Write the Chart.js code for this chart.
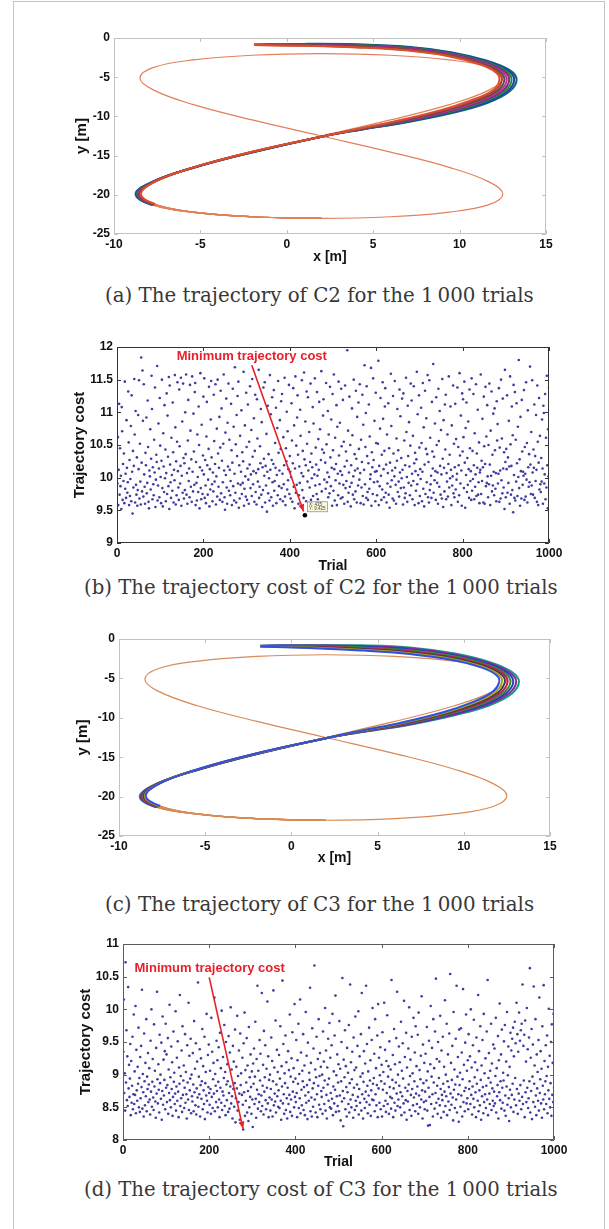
<!DOCTYPE html>
<html>
<head>
<meta charset="utf-8">
<title>Trajectories and trajectory cost for 1 000 trials</title>
<script src="https://cdn.jsdelivr.net/npm/chart.js@4.4.1/dist/chart.umd.min.js"></script>
<style>
  html, body { margin: 0; padding: 0; background: #fff; }
  #page { position: relative; width: 609px; height: 1229px; overflow: hidden; }
  #frame { position: absolute; left: 13px; top: 1px; width: 590px; height: 1300px; border: 1px solid #c4c4c4; }
  #page canvas { position: absolute; left: 0; }
  .cap { position: absolute; white-space: nowrap; line-height: 1; font-family: "DejaVu Serif", serif; color: #383838; }
</style>
</head>
<body>
<div id="page">
  <div id="frame"></div>
  <canvas id="chartA"></canvas>
  <div class="cap" id="capA">(a) The trajectory of C2 for the 1&#8201;000 trials</div>
  <canvas id="chartB"></canvas>
  <div class="cap" id="capB">(b) The trajectory cost of C2 for the 1&#8201;000 trials</div>
  <canvas id="chartC"></canvas>
  <div class="cap" id="capC">(c) The trajectory of C3 for the 1&#8201;000 trials</div>
  <canvas id="chartD"></canvas>
  <div class="cap" id="capD">(d) The trajectory cost of C3 for the 1&#8201;000 trials</div>
</div>
<script>
// ─────────────────────────────────────────────
//  Tick labels
// ─────────────────────────────────────────────
const trajXTicks  = [-10, -5, 0, 5, 10, 15];
const trajYTicks  = [-25, -20, -15, -10, -5, 0];
const trialTicks  = [0, 200, 400, 600, 800, 1000];
const costTicksB  = [9, 9.5, 10, 10.5, 11, 11.5, 12];
const costTicksD  = [8, 8.5, 9, 9.5, 10, 10.5, 11];

// ─────────────────────────────────────────────
//  Reference figure-eight path [x, y] in metres
// ─────────────────────────────────────────────
const refPath = [
  [-2.0,-14.55],[2.0,-12.5],[6.0,-10.45],[9.4,-8.5],[11.7,-6.65],[12.5,-5.1],[11.7,-3.75],
  [9.4,-2.8],[6.0,-2.2],[2.0,-2.0],[-2.0,-2.2],[-5.4,-2.8],[-7.7,-3.75],[-8.5,-5.1],
  [-7.7,-6.65],[-5.4,-8.5],[-2.0,-10.45],[2.0,-12.5],[6.0,-14.55],[9.4,-16.5],[11.7,-18.35],
  [12.5,-19.9],[11.7,-21.25],[9.4,-22.2],[6.0,-22.8],[2.0,-23.0],[-2.0,-22.8],[-5.4,-22.2],
  [-7.7,-21.25],[-8.5,-19.9],[-7.7,-18.35],[-5.4,-16.5],[-2.0,-14.55],[2.0,-12.5],[6.0,-10.45]
];

// ─────────────────────────────────────────────
//  C2 trials (outer edge of the bundle → inner edge)
// ─────────────────────────────────────────────
const trialC2_1 = [[-1.9,-0.85],[1.0,-0.75],[4.0,-0.8],[7.0,-1.1],[9.5,-1.8],[11.6,-2.9],[12.9,-4.1],[13.3,-5.3],[12.9,-6.8],[11.6,-8.3],[9.5,-9.6],[6.8,-10.8],[4.3,-11.7],[2.2,-12.5],[-2.0,-14.6],[-5.4,-16.55],[-7.8,-18.35],[-8.75,-19.9],[-7.8,-21.3],[-5.4,-22.25],[-2.0,-22.8],[2.0,-23.0]];
const trialC2_2 = [[-1.9,-0.86],[1.0,-0.79],[4.0,-0.86],[7.0,-1.17],[9.47,-1.87],[11.54,-2.97],[12.79,-4.14],[13.16,-5.31],[12.76,-6.79],[11.46,-8.26],[9.41,-9.54],[6.73,-10.77],[4.27,-11.69],[2.2,-12.5],[-2.0,-14.59],[-5.4,-16.54],[-7.77,-18.34],[-8.71,-19.9],[-7.77,-21.29],[-5.4,-22.24],[-2.0,-22.8],[2.0,-23.0]];
const trialC2_3 = [[-1.9,-0.86],[1.0,-0.82],[4.0,-0.91],[7.0,-1.24],[9.44,-1.94],[11.49,-3.04],[12.67,-4.19],[13.01,-5.33],[12.61,-6.77],[11.31,-8.21],[9.33,-9.49],[6.66,-10.74],[4.24,-11.67],[2.2,-12.5],[-2.0,-14.57],[-5.4,-16.54],[-7.74,-18.34],[-8.66,-19.9],[-7.74,-21.27],[-5.4,-22.24],[-2.0,-22.8],[2.0,-23.0]];
const trialC2_4 = [[-1.9,-0.87],[1.0,-0.86],[4.0,-0.97],[7.0,-1.31],[9.41,-2.01],[11.43,-3.11],[12.56,-4.23],[12.87,-5.34],[12.47,-6.76],[11.17,-8.17],[9.24,-9.43],[6.59,-10.71],[4.21,-11.66],[2.2,-12.5],[-2.0,-14.56],[-5.4,-16.53],[-7.71,-18.33],[-8.62,-19.9],[-7.71,-21.26],[-5.4,-22.23],[-2.0,-22.8],[2.0,-23.0]];
const trialC2_5 = [[-1.9,-0.88],[1.0,-0.89],[4.0,-1.03],[7.0,-1.39],[9.39,-2.09],[11.37,-3.19],[12.44,-4.27],[12.73,-5.36],[12.33,-6.74],[11.03,-8.13],[9.16,-9.37],[6.51,-10.69],[4.19,-11.64],[2.2,-12.5],[-2.0,-14.54],[-5.4,-16.52],[-7.69,-18.32],[-8.58,-19.9],[-7.69,-21.24],[-5.4,-22.22],[-2.0,-22.8],[2.0,-23.0]];
const trialC2_6 = [[-1.9,-0.89],[1.0,-0.93],[4.0,-1.09],[7.0,-1.46],[9.36,-2.16],[11.31,-3.26],[12.33,-4.31],[12.59,-5.37],[12.19,-6.73],[10.89,-8.09],[9.07,-9.31],[6.44,-10.66],[4.16,-11.63],[2.2,-12.5],[-2.0,-14.53],[-5.4,-16.51],[-7.66,-18.31],[-8.54,-19.9],[-7.66,-21.23],[-5.4,-22.21],[-2.0,-22.8],[2.0,-23.0]];
const trialC2_7 = [[-1.9,-0.89],[1.0,-0.96],[4.0,-1.14],[7.0,-1.53],[9.33,-2.23],[11.26,-3.33],[12.21,-4.36],[12.44,-5.39],[12.04,-6.71],[10.74,-8.04],[8.99,-9.26],[6.37,-10.63],[4.13,-11.61],[2.2,-12.5],[-2.0,-14.51],[-5.4,-16.51],[-7.63,-18.31],[-8.49,-19.9],[-7.63,-21.21],[-5.4,-22.21],[-2.0,-22.8],[2.0,-23.0]];
const trialC2_8 = [[-1.9,-0.9],[1.0,-1.0],[4.0,-1.2],[7.0,-1.6],[9.3,-2.3],[11.2,-3.4],[12.1,-4.4],[12.3,-5.4],[11.9,-6.7],[10.6,-8.0],[8.9,-9.2],[6.3,-10.6],[4.1,-11.6],[2.2,-12.5],[-2.0,-14.5],[-5.4,-16.5],[-7.6,-18.3],[-8.45,-19.9],[-7.6,-21.2],[-5.4,-22.2],[-2.0,-22.8],[2.0,-23.0]];

// ─────────────────────────────────────────────
//  C3 trials (outer edge of the bundle → inner edge)
// ─────────────────────────────────────────────
const trialC3_1 = [[-1.8,-0.85],[1.0,-0.75],[4.0,-0.8],[7.0,-1.1],[9.5,-1.85],[11.6,-3.0],[12.8,-4.2],[13.2,-5.4],[12.8,-6.9],[11.5,-8.4],[9.4,-9.7],[6.8,-10.9],[4.3,-11.75],[2.2,-12.5],[-2.0,-14.6],[-5.4,-16.6],[-7.85,-18.4],[-8.8,-20.0],[-7.85,-21.35],[-5.4,-22.25],[-2.0,-22.8],[2.0,-23.0]];
const trialC3_2 = [[-1.8,-0.86],[1.0,-0.81],[4.0,-0.89],[7.0,-1.22],[9.46,-1.96],[11.52,-3.08],[12.67,-4.26],[13.04,-5.41],[12.63,-6.89],[11.35,-8.36],[9.32,-9.64],[6.73,-10.87],[4.27,-11.73],[2.2,-12.5],[-2.0,-14.59],[-5.4,-16.59],[-7.82,-18.39],[-8.75,-19.99],[-7.82,-21.33],[-5.4,-22.24],[-2.0,-22.8],[2.0,-23.0]];
const trialC3_3 = [[-1.8,-0.88],[1.0,-0.87],[4.0,-0.99],[7.0,-1.35],[9.41,-2.07],[11.43,-3.17],[12.54,-4.32],[12.87,-5.43],[12.45,-6.87],[11.18,-8.31],[9.23,-9.58],[6.66,-10.83],[4.24,-11.71],[2.2,-12.5],[-2.0,-14.57],[-5.4,-16.57],[-7.78,-18.37],[-8.7,-19.97],[-7.78,-21.31],[-5.4,-22.24],[-2.0,-22.8],[2.0,-23.0]];
const trialC3_4 = [[-1.8,-0.89],[1.0,-0.92],[4.0,-1.08],[7.0,-1.47],[9.37,-2.17],[11.34,-3.26],[12.41,-4.37],[12.71,-5.44],[12.28,-6.86],[11.03,-8.27],[9.14,-9.53],[6.59,-10.79],[4.21,-11.69],[2.2,-12.5],[-2.0,-14.56],[-5.4,-16.56],[-7.74,-18.36],[-8.65,-19.96],[-7.74,-21.29],[-5.4,-22.23],[-2.0,-22.8],[2.0,-23.0]];
const trialC3_5 = [[-1.8,-0.91],[1.0,-0.98],[4.0,-1.17],[7.0,-1.58],[9.33,-2.28],[11.26,-3.34],[12.29,-4.43],[12.54,-5.46],[12.12,-6.84],[10.87,-8.23],[9.06,-9.47],[6.52,-10.76],[4.19,-11.66],[2.2,-12.5],[-2.0,-14.54],[-5.4,-16.54],[-7.71,-18.34],[-8.6,-19.94],[-7.71,-21.26],[-5.4,-22.22],[-2.0,-22.8],[2.0,-23.0]];
const trialC3_6 = [[-1.8,-0.92],[1.0,-1.03],[4.0,-1.26],[7.0,-1.7],[9.29,-2.38],[11.17,-3.43],[12.16,-4.48],[12.38,-5.47],[11.95,-6.83],[10.72,-8.19],[8.97,-9.42],[6.45,-10.72],[4.16,-11.64],[2.2,-12.5],[-2.0,-14.53],[-5.4,-16.53],[-7.67,-18.33],[-8.55,-19.93],[-7.67,-21.24],[-5.4,-22.21],[-2.0,-22.8],[2.0,-23.0]];
const trialC3_7 = [[-1.8,-0.94],[1.0,-1.09],[4.0,-1.36],[7.0,-1.83],[9.24,-2.5],[11.08,-3.52],[12.03,-4.54],[12.21,-5.49],[11.77,-6.81],[10.55,-8.14],[8.88,-9.36],[6.37,-10.69],[4.13,-11.62],[2.2,-12.5],[-2.0,-14.51],[-5.4,-16.51],[-7.64,-18.31],[-8.5,-19.91],[-7.64,-21.22],[-5.4,-22.21],[-2.0,-22.8],[2.0,-23.0]];
const trialC3_8 = [[-1.8,-0.95],[1.0,-1.15],[4.0,-1.45],[7.0,-1.95],[9.2,-2.6],[11.0,-3.6],[11.9,-4.6],[12.05,-5.5],[11.6,-6.8],[10.4,-8.1],[8.8,-9.3],[6.3,-10.65],[4.1,-11.6],[2.2,-12.5],[-2.0,-14.5],[-5.4,-16.5],[-7.6,-18.3],[-8.45,-19.9],[-7.6,-21.2],[-5.4,-22.2],[-2.0,-22.8],[2.0,-23.0]];

// ─────────────────────────────────────────────
//  Trajectory cost per trial (trial 1 … 1000)
// ─────────────────────────────────────────────
const costC2 = [
  9.91,10.62,9.58,10.12,11.13,9.74,10.45,9.87,10.03,9.52,11.08,10.71,9.66,10.21,9.95,10.37,9.61,11.47,9.83,10.06,
  9.69,10.88,10.15,9.77,9.93,11.32,10.54,9.58,10.27,9.72,9.98,10.79,9.64,11.26,10.09,9.45,10.41,9.85,10.18,11.51,
  10.66,9.62,11.02,9.89,9.74,10.31,9.57,9.81,10.96,10.13,11.49,9.68,10.52,9.94,9.59,11.84,10.23,9.79,11.64,10.87,
  9.71,11.43,10.05,9.86,9.6,10.38,10.19,10.92,9.76,9.92,11.18,10.47,9.63,9.53,10.11,10.02,10.74,9.82,10.29,11.56,
  11.05,9.67,10.16,9.9,9.73,10.58,10.08,11.38,9.55,9.97,10.35,10.24,11.71,9.65,9.88,10.83,10.14,9.7,11.22,10.49,
  10.01,9.61,10.26,11.5,9.84,9.56,10.68,10.17,9.78,11.11,9.99,10.43,9.64,10.07,11.29,9.75,10.95,10.32,9.87,11.54,
  9.52,11.41,10.2,9.93,9.69,10.61,10.04,9.8,11.15,10.39,9.62,10.12,9.96,11.57,10.77,9.59,10.25,9.73,10.55,11.46,
  10.1,9.85,9.66,11.35,10.48,9.91,10.18,11.53,9.57,10.03,10.86,9.77,11.44,10.3,9.68,10.22,9.81,11.0,10.36,11.58,
  9.74,10.07,9.6,10.57,11.19,9.95,10.14,9.7,11.42,10.72,9.86,10.28,9.63,11.55,10.09,9.79,10.98,10.4,9.89,11.31,
  11.45,9.58,10.24,9.92,9.65,10.66,10.01,9.78,11.09,10.5,9.53,10.16,11.6,9.84,9.67,10.81,10.11,9.75,10.34,11.24,
  10.05,11.52,9.69,10.27,9.88,9.61,10.63,11.16,10.19,9.74,9.97,10.44,11.39,9.56,10.13,9.82,10.89,11.48,10.31,9.9,
  9.64,10.08,9.79,11.27,10.56,9.94,10.21,11.43,9.59,10.02,10.75,9.71,11.5,10.37,9.86,10.15,10.93,9.66,10.46,11.33,
  9.76,11.06,10.26,9.63,9.93,10.52,11.58,10.11,9.7,9.51,10.69,10.04,11.21,9.85,9.6,10.84,10.17,11.44,9.8,10.58,
  10.12,9.73,9.95,11.13,10.42,9.58,10.23,11.36,9.87,10.78,9.65,10.06,11.69,9.77,10.51,9.62,10.96,10.33,11.25,9.91,
  11.47,9.54,10.19,9.68,10.64,9.89,10.09,11.03,9.75,10.39,9.92,10.25,11.62,9.57,9.83,10.8,10.02,9.71,11.3,10.47,
  9.66,10.14,11.12,9.97,9.6,10.55,10.2,11.4,9.84,10.05,10.73,9.72,11.51,10.32,9.9,10.1,10.91,9.63,10.41,11.27,
  9.78,10.07,9.59,11.2,10.6,9.94,10.13,11.65,9.69,9.86,10.48,10.22,11.05,9.74,10.85,9.55,10.16,9.81,11.38,10.29,
  10.03,11.46,9.62,10.18,9.88,10.67,9.48,10.09,11.1,9.76,10.36,9.99,9.65,11.57,10.12,10.97,9.7,10.27,11.23,9.93,
  9.57,10.21,11.34,9.8,9.95,10.53,10.15,11.07,9.61,10.04,10.76,9.73,11.48,10.38,9.87,10.11,10.88,9.67,10.44,11.17,
  9.84,11.28,10.06,9.64,10.62,9.9,10.19,11.53,9.71,9.58,10.45,10.25,11.01,9.82,10.71,9.96,10.13,11.42,9.75,10.33,
  10.09,9.68,10.01,11.14,10.57,9.63,10.22,11.37,9.86,10.8,9.53,10.14,11.55,9.77,10.49,9.89,10.92,11.26,10.35,9.6,
  9.73,10.17,9.92,11.04,10.64,9.56,10.07,11.49,9.81,10.41,10.02,9.69,11.61,10.28,9.425,10.86,10.19,9.64,11.32,10.52,
  9.94,11.23,10.11,9.58,10.7,9.85,10.24,11.44,9.66,10.37,9.99,10.16,11.08,9.72,10.83,9.6,10.05,11.52,9.88,10.46,
  10.2,9.75,11.31,10.03,9.67,10.59,10.12,11.16,9.9,10.74,9.55,10.27,11.63,9.79,10.43,9.62,10.95,11.2,10.38,9.97,
  9.61,10.23,9.83,11.45,10.51,9.93,10.08,11.02,9.7,10.66,10.01,9.76,11.39,10.31,9.87,10.89,10.15,9.57,11.28,10.42,
  9.8,11.58,10.13,9.65,10.61,9.96,10.21,11.11,9.58,10.78,10.06,9.73,11.47,10.34,9.91,10.84,10.1,9.68,11.36,10.48,
  10.04,9.7,11.19,9.89,10.55,9.6,10.17,11.41,9.84,10.4,9.95,10.26,11.95,9.63,10.72,9.77,10.08,11.24,9.86,10.5,
  9.56,10.19,9.92,11.06,10.65,9.74,10.02,11.5,9.67,10.36,10.11,9.79,11.33,10.29,9.62,10.93,10.14,9.88,11.15,10.44,
  9.97,11.43,10.07,9.61,10.58,9.85,10.24,11.27,9.72,10.81,9.59,10.12,11.72,9.9,10.47,10.99,9.69,11.4,10.33,9.78,
  9.66,10.22,11.12,9.83,10.63,9.98,10.05,11.68,9.57,10.39,10.16,9.75,11.52,10.27,9.93,10.87,10.09,9.64,11.3,10.53,
  10.1,9.73,9.94,10.52,11.79,9.58,10.18,9.87,10.75,11.22,10.03,9.66,10.35,9.82,11.46,10.9,10.13,9.7,10.41,11.09,
  11.37,9.77,10.2,9.62,10.66,9.91,10.07,11.14,9.74,10.45,9.54,10.23,9.86,11.59,10.79,9.96,10.11,9.68,11.25,10.37,
  9.65,10.02,11.48,10.15,9.89,9.6,10.6,10.26,11.05,9.78,10.42,9.94,9.71,11.35,10.08,10.94,9.84,10.3,9.99,11.21,
  10.12,9.59,11.29,9.85,10.57,9.69,10.19,9.76,11.53,10.7,10.01,9.63,11.1,10.33,9.92,10.85,10.17,9.73,10.49,11.44,
  9.88,11.18,10.06,9.67,10.64,9.95,11.4,10.22,9.58,10.38,10.1,9.8,10.28,11.62,9.9,10.97,10.04,9.61,11.26,10.46,
  9.72,10.13,9.98,11.07,10.53,9.64,10.09,11.45,9.83,10.77,9.56,10.2,11.33,9.75,10.44,10.91,9.93,10.36,11.57,9.7,
  10.24,9.62,11.49,9.81,10.61,9.9,10.03,9.69,11.16,10.4,10.14,11.74,9.77,10.32,9.96,10.83,10.1,9.66,11.23,10.5,
  9.92,10.08,9.6,11.36,10.56,9.86,11.02,10.18,9.74,10.73,10.05,9.68,11.51,10.29,9.55,10.88,10.15,9.79,11.12,10.43,
  11.27,9.67,10.07,9.94,10.66,9.71,10.21,11.55,9.85,10.35,9.99,11.09,10.12,9.58,10.8,9.88,10.02,11.41,9.76,10.52,
  9.7,10.16,11.13,9.82,10.59,9.97,10.06,11.38,9.63,10.47,10.19,9.73,11.6,10.34,9.91,10.95,10.11,9.57,11.29,10.4,
  11.2,10.62,9.84,11.47,10.23,9.54,10.76,10.04,11.15,9.78,10.3,9.89,10.86,10.13,9.69,11.35,10.45,9.95,10.1,9.66,
  11.52,9.8,10.41,9.98,11.28,10.19,9.67,10.68,9.86,10.05,11.43,9.72,10.37,10.15,11.04,9.74,9.93,10.54,9.61,10.08,
  10.12,11.58,9.75,10.26,9.95,10.9,10.16,9.62,11.24,10.48,9.6,10.21,11.39,9.87,10.63,9.92,11.11,10.02,9.7,10.5,
  9.9,11.44,10.2,9.58,10.72,10.03,11.32,9.79,10.35,9.88,10.98,10.09,9.73,11.06,10.42,9.83,10.07,9.64,11.17,10.57,
  10.82,9.91,10.06,11.37,9.63,10.46,10.11,9.68,11.5,9.96,10.6,9.76,11.21,10.14,9.85,10.39,9.52,11.65,10.24,9.7,
  10.44,10.13,11.26,9.77,10.31,9.92,10.87,10.17,9.6,11.55,10.51,9.74,10.18,11.09,9.81,10.65,9.47,11.42,10.04,9.69,
  11.31,9.65,10.58,9.94,11.14,10.22,9.72,10.78,10.01,11.8,9.84,10.28,9.57,10.93,10.1,9.68,11.19,10.4,9.89,10.09,
  10.03,11.34,9.66,10.47,10.06,9.71,11.46,9.97,10.53,9.62,11.03,10.16,9.86,10.36,9.93,11.7,10.2,9.75,10.7,9.88,
  11.49,10.08,9.74,10.43,10.15,11.12,9.69,10.33,9.95,10.96,10.12,9.63,11.41,10.55,9.58,10.23,11.22,9.82,10.64,9.9,
  9.78,10.3,9.94,10.89,10.14,9.6,11.1,10.99,9.91,10.05,11.28,9.67,10.61,9.85,11.56,10.19,9.53,10.74,10.02,11.38
];

const costC3 = [
  9.35,10.15,8.72,9.02,8.45,10.72,8.88,9.68,8.61,9.28,8.52,10.34,8.79,9.15,8.66,8.94,9.47,8.38,9.21,8.57,
  8.83,9.58,8.47,8.7,9.92,8.55,9.05,8.69,10.05,8.41,9.38,8.76,8.6,9.12,8.86,9.72,8.5,8.95,8.43,9.27,
  8.64,9.44,8.81,10.3,8.48,9.01,8.73,8.36,9.63,8.9,8.53,9.18,8.67,9.85,8.44,8.97,8.78,9.33,8.58,8.85,
  9.1,8.62,8.39,9.52,8.74,10.0,8.51,8.89,9.24,8.65,8.46,9.77,8.82,9.06,8.59,8.34,9.41,8.71,10.27,8.93,
  8.56,9.16,8.77,8.42,9.61,8.87,9.0,8.63,9.49,8.31,8.75,9.89,8.54,9.23,8.68,8.92,9.36,8.47,9.78,8.8,
  9.31,8.58,8.84,9.56,8.4,9.08,8.72,10.07,8.61,8.96,8.5,9.43,8.78,9.19,8.37,8.66,9.66,8.89,9.03,8.55,
  8.71,9.97,8.45,8.82,9.26,8.6,9.51,8.74,8.35,9.11,8.86,10.22,8.52,8.98,8.64,9.37,8.43,9.74,8.69,8.91,
  9.14,8.49,8.8,9.62,8.57,9.04,8.7,8.33,9.45,8.88,8.62,10.1,8.46,9.29,8.76,8.94,9.55,8.41,9.0,8.67,
  8.59,9.33,8.85,8.44,9.82,8.73,9.09,8.53,9.48,8.39,8.79,9.2,8.65,10.41,8.51,8.97,8.7,9.39,8.36,8.84,
  9.25,8.63,8.9,9.7,8.47,9.13,8.76,8.55,9.58,8.32,8.87,9.04,8.68,9.93,8.6,8.42,9.3,8.81,9.46,8.72,
  8.54,9.06,8.78,8.4,9.87,8.66,9.35,8.49,8.93,9.18,8.71,10.18,8.44,9.01,8.83,8.58,9.52,8.75,9.22,8.5,
  8.89,9.42,8.62,8.35,9.64,8.8,9.1,8.57,9.98,8.46,8.74,9.27,8.68,8.95,9.76,8.52,9.04,8.38,9.5,8.85,
  8.61,9.16,8.9,8.43,9.59,8.72,8.48,9.34,8.82,10.03,8.56,9.08,8.67,8.33,9.44,8.78,9.2,8.51,8.87,9.69,
  8.27,8.64,9.12,8.79,9.9,8.45,8.98,8.58,9.37,8.71,8.31,9.63,8.84,9.02,8.26,8.69,9.26,8.54,8.16,9.48,
  8.73,9.95,8.37,9.07,8.6,8.88,9.56,8.42,9.14,8.75,8.29,9.73,8.5,8.96,8.66,9.31,8.81,8.4,9.05,8.62,
  8.2,9.17,8.86,9.4,8.55,8.97,9.81,8.63,8.34,9.24,8.77,10.36,8.48,9.06,8.7,8.58,9.53,8.91,9.32,8.44,
  8.68,10.25,8.52,8.83,9.15,8.39,9.67,8.74,8.96,9.45,8.61,8.47,9.09,8.8,10.12,8.56,9.28,8.35,8.92,8.65,
  9.0,8.45,8.78,9.57,8.62,9.21,8.36,8.9,10.29,8.53,9.11,8.71,8.59,9.83,8.42,8.85,9.38,8.67,9.04,8.51,
  8.76,9.3,8.49,8.94,9.74,8.6,8.31,9.13,8.82,10.44,8.56,9.47,8.7,8.4,9.02,8.87,9.6,8.46,9.19,8.64,
  8.33,8.8,9.36,8.55,9.07,8.69,9.92,8.43,8.97,8.62,9.25,8.37,9.65,8.74,8.89,9.1,8.5,10.08,8.66,8.94,
  8.58,9.53,8.72,8.35,9.22,8.86,9.78,8.49,9.01,8.64,10.15,8.41,9.34,8.77,8.53,9.06,8.9,9.62,8.46,8.81,
  9.14,8.38,8.68,9.96,8.57,9.29,8.84,8.32,9.49,8.73,8.6,9.03,8.92,10.33,8.44,9.18,8.65,8.36,9.71,8.79,
  8.51,9.4,8.87,10.67,8.62,9.08,8.42,8.96,9.58,8.7,8.35,9.24,8.83,9.85,8.54,8.98,9.33,8.47,9.12,8.75,
  8.66,9.0,8.4,9.66,8.8,9.2,8.55,8.91,10.02,8.45,9.37,8.69,8.33,9.11,8.85,9.55,8.6,8.94,9.79,8.5,
  9.26,8.72,8.48,9.45,8.63,9.93,8.38,8.82,9.05,8.56,9.6,8.77,10.21,8.43,8.99,8.67,9.31,8.52,8.88,9.16,
  8.44,9.82,8.68,9.09,8.3,8.9,9.5,8.59,10.48,8.75,8.21,9.23,8.64,8.96,9.68,8.47,9.13,8.81,8.36,9.41,
  8.73,9.03,8.55,9.76,8.42,8.87,10.38,8.62,9.19,8.5,8.93,9.35,8.69,8.34,9.57,8.8,9.07,8.46,9.89,8.6,
  9.11,8.52,8.85,9.44,8.66,9.97,8.39,8.78,9.28,8.57,8.97,9.62,8.45,10.25,8.7,9.02,8.33,8.89,9.36,8.63,
  8.49,9.17,8.74,10.36,8.58,9.47,8.83,8.41,9.05,8.68,9.72,8.54,8.91,9.22,8.37,8.76,9.53,8.62,10.02,8.86,
  8.61,8.95,9.32,8.44,9.85,8.7,9.1,8.53,8.84,9.6,8.35,10.08,8.79,9.26,8.57,8.99,9.42,8.47,8.9,9.15,
  8.36,9.65,8.77,9.04,8.52,10.1,8.86,9.38,8.6,8.43,9.21,8.72,9.91,8.55,8.97,9.13,8.4,9.51,8.81,8.66,
  9.08,8.48,10.45,8.64,8.92,9.3,8.35,8.79,9.7,8.57,9.16,8.45,8.88,9.56,8.71,10.27,8.52,9.0,8.62,9.43,
  8.83,9.19,8.5,8.73,9.81,8.38,9.06,8.67,9.48,8.94,8.56,10.13,8.42,9.27,8.8,8.61,9.64,8.31,9.11,8.75,
  8.59,9.4,8.85,10.03,8.46,8.98,9.23,8.69,8.37,9.58,8.78,9.02,8.53,9.87,8.65,8.9,9.34,8.44,9.74,8.71,
  9.13,8.55,8.82,9.61,8.4,9.95,8.68,9.07,8.5,8.93,9.29,8.62,10.2,8.76,8.33,9.46,8.87,8.58,9.18,8.47,
  8.74,9.32,8.6,8.91,9.73,8.45,9.05,8.22,8.8,9.52,8.66,8.23,9.16,10.05,8.55,8.97,9.41,8.7,8.36,9.85,
  8.88,9.1,8.48,9.66,8.72,10.47,8.57,9.24,8.83,8.4,9.5,8.63,8.95,9.2,8.53,9.9,8.78,8.34,9.37,8.69,
  8.61,9.58,8.86,8.43,9.12,8.74,10.14,8.52,9.0,8.67,9.78,8.38,8.9,9.31,8.59,8.81,9.63,8.46,10.54,8.71,
  9.18,8.54,8.92,9.44,8.65,8.3,9.96,8.77,9.08,8.49,8.85,9.55,8.62,10.36,8.42,8.97,9.27,8.7,8.28,9.69,
  8.84,9.03,8.51,9.71,8.68,9.34,8.36,8.93,10.31,8.58,9.15,8.75,8.44,9.49,8.8,9.92,8.56,9.06,8.64,9.22,
  8.47,9.62,8.78,8.9,9.28,8.55,10.0,8.69,9.11,8.39,8.82,9.45,8.63,9.84,8.5,8.96,9.19,8.73,8.35,9.57,
  8.86,9.07,8.6,10.22,8.44,9.36,8.76,8.53,9.74,8.92,8.31,9.14,8.67,9.53,8.81,8.41,9.93,8.58,9.02,8.7,
  9.25,8.49,8.83,9.66,8.62,10.45,8.38,8.95,9.33,8.71,8.55,9.06,8.88,9.78,8.46,9.17,8.79,8.6,9.46,8.52,
  8.74,9.4,8.56,8.98,9.87,8.42,9.1,8.67,8.84,9.59,8.33,9.22,8.73,10.09,8.61,8.9,9.31,8.48,9.69,8.8,
  8.57,9.03,8.91,9.51,8.45,9.76,8.68,8.37,9.2,8.82,9.96,8.54,8.99,9.43,8.64,8.29,9.12,8.77,9.64,8.5,
  9.37,8.69,9.55,8.86,9.72,8.43,9.28,8.62,9.81,8.95,9.48,8.53,10.1,8.78,9.62,8.4,9.35,8.71,9.95,8.6,
  9.52,8.84,9.68,8.47,9.78,8.66,10.38,8.55,9.44,8.91,9.61,8.35,9.83,8.73,9.2,8.58,10.02,8.8,9.39,8.49,
  8.64,9.57,8.9,10.63,8.42,9.26,8.75,9.7,8.32,8.97,9.46,8.58,10.35,8.86,9.14,8.51,9.85,8.68,8.38,9.31,
  8.79,9.04,8.6,9.53,8.45,10.18,8.72,8.93,9.36,8.56,9.09,8.34,9.74,8.83,8.62,10.37,8.47,9.21,8.7,8.9,
  9.45,8.55,8.98,9.6,8.41,9.12,8.76,10.01,8.63,9.29,8.5,8.87,9.5,8.37,9.77,8.69,9.18,8.58,9.93,8.8
];

// ─────────────────────────────────────────────
//  Page geometry of the four panels (px)
// ─────────────────────────────────────────────
const GEOM = {
  A: { top: 20,  height: 255, L: 114, R: 546, T: 38,  B: 234,  yTitleX: 82, xTitleY: 257 },
  B: { top: 330, height: 245, L: 117, R: 549, T: 347, B: 543,  yTitleX: 80, xTitleY: 566 },
  C: { top: 620, height: 255, L: 119, R: 550, T: 639, B: 836,  yTitleX: 83, xTitleY: 858 },
  D: { top: 925, height: 245, L: 123, R: 554, T: 944, B: 1140, yTitleX: 86, xTitleY: 1162 },
};
const CAPTIONS = [
  ["capA", 105, 534, 296],
  ["capB", 84, 558, 588],
  ["capC", 105, 534, 905],
  ["capD", 84, 558, 1190],
];
const FRAME_COLOR = { A: "#c2c2c2", B: "#333333", C: "#c2c2c2", D: "#5c5c5c" };

const SANS = "'Liberation Sans', Arial, Helvetica, sans-serif";
const TICK_FONT = { family: SANS, size: 12, weight: "bold" };
const DOT = "#3d3d9e";
const NOTE_RED = "#e8202a";
const TAIL_FROM = 18;   // trial point index after which the bundle has merged into the reference

// ─────────────────────────────────────────────
//  Helpers
// ─────────────────────────────────────────────
const toXY = (pairs) => pairs.map(([x, y]) => ({ x, y }));
const toDots = (arr) => arr.map((v, i) => ({ x: i + 1, y: v }));
const minIndex = (arr) => arr.indexOf(Math.min(...arr));

const iMinC2 = minIndex(costC2);
const iMinC3 = minIndex(costC3);

const NOTES = {
  B: { text: "Minimum trajectory cost", at: [312, 11.86], from: [312, 11.72], idx: iMinC2, arr: costC2, gap: 4, tip: true },
  D: { text: "Minimum trajectory cost", at: [201, 10.62], from: [200, 10.49], idx: iMinC3, arr: costC3, gap: 1, tip: false },
};

// ── Box around the axes + inward tick marks (MATLAB look) ──
const framePlugin = {
  id: "frame",
  afterDatasetsDraw(chart) {
    const key = chart.canvas.id.slice(5);
    const { ctx, chartArea: a, scales: { x, y } } = chart;
    const len = 4;
    ctx.save();
    ctx.strokeStyle = FRAME_COLOR[key];
    ctx.lineWidth = 1;
    ctx.beginPath();
    ctx.rect(a.left + 0.5, a.top + 0.5, a.right - a.left - 1, a.bottom - a.top - 1);
    x.ticks.forEach((t) => {
      const px = Math.round(x.getPixelForValue(t.value)) + 0.5;
      ctx.moveTo(px, a.bottom); ctx.lineTo(px, a.bottom - len);
      ctx.moveTo(px, a.top);    ctx.lineTo(px, a.top + len);
    });
    y.ticks.forEach((t) => {
      const py = Math.round(y.getPixelForValue(t.value)) + 0.5;
      ctx.moveTo(a.left, py);  ctx.lineTo(a.left + len, py);
      ctx.moveTo(a.right, py); ctx.lineTo(a.right - len, py);
    });
    ctx.stroke();
    ctx.restore();
  },
};

// ── "Minimum trajectory cost" label, arrow and data tip ──
const notePlugin = {
  id: "note",
  afterDatasetsDraw(chart) {
    const n = NOTES[chart.canvas.id.slice(5)];
    if (!n) return;
    const { ctx, scales: { x, y } } = chart;
    const px = x.getPixelForValue(n.idx + 1), py = y.getPixelForValue(n.arr[n.idx]);
    const x0 = x.getPixelForValue(n.from[0]), y0 = y.getPixelForValue(n.from[1]);
    const ang = Math.atan2(py - y0, px - x0);
    const x1 = px - n.gap * Math.cos(ang), y1 = py - n.gap * Math.sin(ang);
    ctx.save();
    ctx.strokeStyle = NOTE_RED;
    ctx.fillStyle = NOTE_RED;
    ctx.lineWidth = 1.6;
    ctx.beginPath(); ctx.moveTo(x0, y0); ctx.lineTo(x1, y1); ctx.stroke();
    const h = 7, w = 3;
    ctx.beginPath();
    ctx.moveTo(x1, y1);
    ctx.lineTo(x1 - h * Math.cos(ang) + w * Math.sin(ang), y1 - h * Math.sin(ang) - w * Math.cos(ang));
    ctx.lineTo(x1 - h * Math.cos(ang) - w * Math.sin(ang), y1 - h * Math.sin(ang) + w * Math.cos(ang));
    ctx.closePath(); ctx.fill();
    ctx.font = "bold 13px " + SANS;
    ctx.textAlign = "center";
    ctx.textBaseline = "middle";
    ctx.fillText(n.text, x.getPixelForValue(n.at[0]), y.getPixelForValue(n.at[1]));
    if (n.tip) {
      const bx = px + 2, by = py - 14;
      ctx.fillStyle = "#fbf8dc";
      ctx.strokeStyle = "#9a9a8a";
      ctx.lineWidth = 0.8;
      ctx.fillRect(bx, by, 21, 11);
      ctx.strokeRect(bx + 0.5, by + 0.5, 20, 10);
      ctx.fillStyle = "#444";
      ctx.font = "4.5px " + SANS;
      ctx.textAlign = "left";
      ctx.fillText("X: " + (n.idx + 1), bx + 2, by + 3.5);
      ctx.fillText("Y: " + n.arr[n.idx], bx + 2, by + 8);
    }
    ctx.restore();
  },
};

// ─────────────────────────────────────────────
//  Chart builder
// ─────────────────────────────────────────────
function buildChart(key, cfg) {
  const g = GEOM[key];
  const el = document.getElementById("chart" + key);
  el.width = 609;
  el.height = g.height;
  el.style.top = g.top + "px";
  const xFont = { family: SANS, weight: "bold", size: 14 };
  const yFont = { family: SANS, weight: "bold", size: 15 };
  const last = (a) => a[a.length - 1];

  return new Chart(el, {
    type: "scatter",
    data: { datasets: cfg.datasets },
    options: {
      responsive: false,
      animation: false,
      events: [],
      layout: { padding: { left: 0, right: 609 - g.R, top: g.T - g.top, bottom: 0 } },
      plugins: { legend: { display: false }, tooltip: { enabled: false } },
      scales: {
        x: {
          type: "linear",
          min: cfg.xTicks[0],
          max: last(cfg.xTicks),
          afterBuildTicks: (s) => { s.ticks = cfg.xTicks.map((v) => ({ value: v })); },
          afterFit: (s) => { s.height = g.top + g.height - g.B; },
          grid: { display: false, drawTicks: false },
          border: { display: false },
          ticks: { padding: 3, color: "#111", font: TICK_FONT, maxRotation: 0, autoSkip: false, callback: (v) => String(v) },
          title: {
            display: true, text: cfg.xTitle, color: "#111", font: xFont,
            padding: { top: 0, bottom: g.top + g.height - g.xTitleY - 14 * 1.2 / 2 },
          },
        },
        y: {
          type: "linear",
          min: cfg.yTicks[0],
          max: last(cfg.yTicks),
          afterBuildTicks: (s) => { s.ticks = cfg.yTicks.map((v) => ({ value: v })); },
          afterFit: (s) => { s.width = g.L; },
          grid: { display: false, drawTicks: false },
          border: { display: false },
          ticks: { padding: 4, color: "#111", font: TICK_FONT, autoSkip: false, callback: (v) => String(v) },
          title: {
            display: true, text: cfg.yTitle, color: "#111", font: yFont,
            padding: { top: g.yTitleX - 15 * 1.2 / 2, bottom: 0 },
          },
        },
      },
    },
    plugins: [framePlugin, notePlugin],
  });
}

// trial bundle: thick coloured lines that thin out and take the reference
// colour once they have merged back onto the reference path
function trialSets(trials, colors, refColor) {
  return trials.map((t, i) => ({
    data: toXY(t),
    showLine: true,
    borderColor: colors[i],
    borderWidth: 2,
    pointRadius: 0,
    tension: 0.4,
    fill: false,
    segment: {
      borderColor: (c) => (c.p0DataIndex >= TAIL_FROM ? refColor : undefined),
      borderWidth: (c) => (c.p0DataIndex >= TAIL_FROM ? 1.2 : undefined),
    },
  }));
}

function refSet(color) {
  return { data: toXY(refPath), showLine: true, borderColor: color, borderWidth: 1.2, pointRadius: 0, tension: 0.4, fill: false };
}

// ── (a) C2 trajectories ──
const REF_A = "#e2805c";
buildChart("A", {
  xTicks: trajXTicks, yTicks: trajYTicks, xTitle: "x [m]", yTitle: "y [m]",
  datasets: [
    ...trialSets(
      [trialC2_8, trialC2_7, trialC2_6, trialC2_5, trialC2_4, trialC2_3, trialC2_2, trialC2_1],
      ["#d9502e", "#b8402a", "#505050", "#c03090", "#7a2a8a", "#2a8a2a", "#1f3fbf", "#0b6b6b"],
      REF_A
    ),
    refSet(REF_A),
  ],
});

// ── (b) C2 cost ──
buildChart("B", {
  xTicks: trialTicks, yTicks: costTicksB, xTitle: "Trial", yTitle: "Trajectory cost",
  datasets: [
    { data: [{ x: iMinC2 + 1, y: costC2[iMinC2] }], pointRadius: 2.3, pointBackgroundColor: "#000", pointBorderWidth: 0 },
    { data: toDots(costC2), pointRadius: 1.3, pointBackgroundColor: DOT, pointBorderWidth: 0 },
  ],
});

// ── (c) C3 trajectories ──
const REF_C = "#d98a55";
buildChart("C", {
  xTicks: trajXTicks, yTicks: trajYTicks, xTitle: "x [m]", yTitle: "y [m]",
  datasets: [
    ...trialSets(
      [trialC3_8, trialC3_7, trialC3_6, trialC3_5, trialC3_4, trialC3_3, trialC3_2, trialC3_1],
      ["#3050e0", "#b0a020", "#404040", "#c02060", "#3a8a30", "#2040c0", "#8a2a9a", "#1a9a8a"],
      REF_C
    ),
    refSet(REF_C),
  ],
});

// ── (d) C3 cost ──
buildChart("D", {
  xTicks: trialTicks, yTicks: costTicksD, xTitle: "Trial", yTitle: "Trajectory cost",
  datasets: [
    { data: toDots(costC3), pointRadius: 1.3, pointBackgroundColor: DOT, pointBorderWidth: 0 },
  ],
});

// ─────────────────────────────────────────────
//  Captions: fit each to its measured width
// ─────────────────────────────────────────────
CAPTIONS.forEach(([id, left, right, cy]) => {
  const el = document.getElementById(id);
  el.style.fontSize = "16px";
  const w = el.getBoundingClientRect().width;
  el.style.fontSize = (16 * (right - left) / w).toFixed(2) + "px";
  const h = el.getBoundingClientRect().height;
  el.style.left = left + "px";
  el.style.top = (cy - h / 2).toFixed(1) + "px";
});
</script>
</body>
</html>
